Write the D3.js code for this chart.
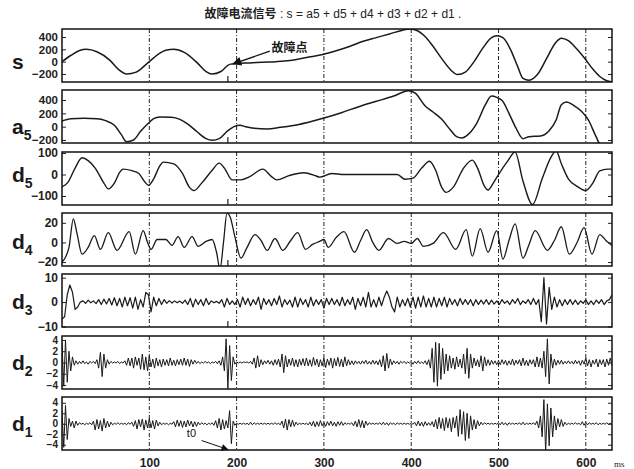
<!DOCTYPE html>
<html><head><meta charset="utf-8">
<script src="https://cdn.jsdelivr.net/npm/d3@7"></script>
<style>body{margin:0;background:#fff;} svg{display:block;}</style>
</head><body>
<svg id="c" width="634" height="469"></svg>
<script>
// ---------------- data ----------------
const titleCN = "故障电流信号";
const titleEq = " : s = a5 + d5 + d4 + d3 + d2 + d1 .";
const xTicks = [100, 200, 300, 400, 500, 600];

const sT = [0,10,20,28,40,55,65,74,85,95,100,110,120,128,140,155,165,172,182,190,193,200,215,230,245,255,270,285,300,315,330,345,360,375,390,398,405,415,425,435,445,453,462,472,482,492,498,505,515,522,528,535,545,555,565,572,580,590,600,608,616,624,630];
const sV = [0,100,180,200,160,20,-130,-200,-170,-60,0,120,190,200,150,-20,-160,-200,-160,-60,-40,-30,-20,-10,0,10,40,80,120,180,250,330,390,450,510,530,515,420,250,50,-130,-210,-170,0,220,390,420,390,160,-80,-270,-300,-200,50,300,380,340,200,30,-120,-240,-310,-330];

const a5T = [0,10,25,40,50,60,68,74,82,90,98,105,112,125,135,145,155,165,172,180,190,197,204,210,220,235,250,270,300,320,340,360,380,397,405,416,425,435,445,452,458,465,475,485,492,498,505,512,520,528,535,548,558,566,572,578,586,595,603,610,616];
const a5V = [85,120,125,120,90,20,-120,-225,-200,-70,40,120,145,140,110,30,-80,-180,-205,-180,-60,0,20,0,-25,-35,-10,30,130,210,300,380,460,540,500,310,220,110,-50,-150,-170,-120,50,330,460,440,380,200,-20,-180,-150,-140,-60,100,330,370,320,230,100,-100,-270];

const d5T = [0,7,15,23,30,38,48,53,60,66,70,80,88,95,99,105,112,116,128,138,146,151,160,172,180,186,195,205,215,230,240,246,260,277,290,295,309,323,384,393,402,412,421,428,435,440,448,460,470,476,484,488,494,500,510,519,528,539,550,560,566,572,580,590,600,608,616,625,630];
const d5V = [-58,-35,30,78,65,30,-40,-67,-40,10,25,18,5,-35,-50,-20,40,58,50,5,-60,-75,-40,20,53,30,-25,-25,-10,25,-10,-25,-5,8,-5,-12,5,0,0,-22,-17,30,62,20,-60,-83,-60,30,67,30,-55,-72,-40,0,60,105,-30,-140,-20,80,110,50,-20,-55,-75,-40,17,25,25];

const d4T = [0,4,8,13,17,23,30,37,44,53,63,77,84,93,98,102,109,119,126,133,140,149,156,165,172,177,181,185,189,193,198,205,212,221,228,235,244,253,262,270,279,287,295,300,305,314,323,335,342,349,356,363,374,384,392,400,407,414,425,437,451,463,470,479,488,498,505,512,519,528,535,542,556,564,572,581,590,598,607,616,623,630];
const d4V = [-20,-15,-5,24,10,-12,-5,7,-7,10,-8,11,-12,12,0,-7,3,3,-3,6,-5,6,-4,1,3,-10,-27,0,30,25,6,-16,-5,8,2,-8,4,-8,2,10,-7,-2,1,3,-5,5,11,-10,2,13,0,-8,4,-1,1,-1,4,-4,-1,10,-7,13,-14,14,-10,12,-17,2,19,-16,-2,12,-8,2,16,-12,0,15,-12,8,2,-3];

// d3 sampled every 3 ms
const d3Step = 3;
const d3V = [
 -7,-6,3,7,4,-3,-2,0,
 0.5,-0.5,0.8,-0.3,0.5,-0.6,1,-1,1.2,-0.8,1.5,-1.2,1.8,-1.5,1.5,-2,2,-1.5,1.8,-2.5,2,-3,1,-2,
 4,3,-4,2,-1.5,1.5,-1,1,-0.5,0.6,-0.4,0.5,
 -0.3,0.4,-0.5,0.8,-1,1.5,-2,1.2,-1,1,-1.5,1.5,-1,0.5,-0.3,0.3,-0.5,1,-2,1.5,-1,0.5,
 -1,1,-2,2,-1,1.5,-1.5,1,-1,2,-3,1.5,-1,1,-1.5,1.5,-1,2.5,-2,1,-1,0.8,
 -2,2,-2,1.5,-1,1,-2,2,-1.5,1,-1,1,-2.5,1.5,-1,1.5,-1,1,-1.5,2,-1.5,1,
 -1,2,-3,1.5,-1.5,2,-2,4,-2,1,-2,2,-1.5,2,4.5,2,-2,-4,2,-2,1,-1.5,
 1.5,-2,2,-2.5,2,-2,2.5,-2,1.5,-2,2,-2,1.5,-1.5,2,-2,1.5,-1,1,-1.5,1.5,-1,
 1,-1,1,-1.5,1,-1,0.8,-0.8,1,-1,0.8,-0.8,0.5,-1,1,-0.5,0.5,-1,1,-0.5,1.5,-1,
 0.5,-0.5,1,-1,1.5,-1,1,-8,10,-9,6,-3,2,-2,1,-1.5,1,-1,1,-1,0.8,-1,
 0.5,-0.5,1,-1,0.5,-1,0.8,-0.5,1,-1,0.5,1,3];

// d2 sampled every 2 ms
const d2Step = 2;
const d2V = [
 3.5,-4.2,4,-3.5,2,-1.5,1,-0.5,0.3,-0.3,
 0.2,-0.2,0.3,-0.2,0.1,-0.3,0.2,-0.1,0.2,-0.2,
 0.5,-1,1.8,-2.5,1.5,-1,0.5,-0.3,0.2,-0.1,
 0.1,-0.1,0.2,-0.2,0.1,-0.1,0.3,-0.5,0.8,-0.6,
 0.8,-1,1,-0.5,0.8,-1.2,1.5,-1.3,1,-1.5,
 1.2,-0.8,0.6,-1,0.8,-0.6,0.5,-0.8,0.6,-0.5,
 0.5,-0.6,0.8,-0.5,0.4,-0.6,0.5,-0.4,0.6,-0.5,
 0.8,-0.5,0.6,-0.7,0.5,-0.3,0.4,-0.2,0.2,-0.2,
 0.1,-0.1,0.2,-0.1,0.1,-0.2,0.1,-0.1,0.2,-0.2,
 0.3,-0.5,1,-1.5,4.2,-4.6,3,-3.2,1,-0.3,
 0.1,-0.1,0.1,-0.1,0.1,0,0.1,-0.1,0.2,-0.3,
 0.8,-1,1.2,-0.8,0.5,-0.4,0.3,-0.2,0.4,-0.3,
 0.3,-0.5,0.5,-0.4,0.6,-0.8,1.5,-1.8,1.2,-0.8,
 0.6,-0.5,0.8,-0.7,0.5,-0.8,0.6,-0.5,0.7,-0.6,
 0.8,-0.6,0.5,-0.7,0.9,-0.5,0.6,-0.8,0.5,-0.6,
 0.8,-0.9,0.6,-0.5,0.8,-1,0.7,-0.6,0.9,-0.7,
 0.6,-0.8,1,-0.6,0.5,-0.4,0.3,-0.4,0.3,-0.2,
 0.2,-0.3,0.3,-0.2,0.4,-0.3,0.2,-0.3,0.4,-0.3,
 0.3,-0.4,0.5,-0.8,1.2,-1.5,1.6,-1,0.6,-0.4,
 0.3,-0.2,0.2,-0.3,0.2,-0.1,0.2,-0.2,0.1,-0.1,
 0.2,-0.3,0.2,-0.2,0.3,-0.2,0.1,-0.2,0.3,-0.4,
 0.5,-1,2.5,-3.5,3.6,-4.2,3.4,-3,2.5,-2,
 1.5,-1.5,1.2,-1,0.8,-1.2,1,-0.8,0.6,-1,
 1.5,-2,2.5,-2.8,1.5,-1,0.8,-0.6,0.5,-0.8,
 1.2,-1.5,1,-0.6,0.5,-0.5,0.4,-0.3,0.3,-0.4,
 0.3,-0.4,0.5,-0.3,0.4,-0.5,0.3,-0.4,0.6,-0.5,
 0.4,-0.3,0.5,-0.6,0.8,-0.5,0.4,-0.6,0.5,-0.3,
 0.5,-0.8,1,-0.8,0.8,-1,2,-2.5,4.2,-3.8,
 1.5,-1,0.6,-0.5,0.4,-0.3,0.4,-0.3,0.2,-0.2,
 0.3,-0.2,0.2,-0.3,0.4,-0.2,0.3,-0.5,0.4,-0.3,
 0.8,-0.6,0.5,-0.8,0.4,-0.3,0.6,-0.8,0.5,-0.4,
 0.5,-0.8,0.6,-0.5,0.8,-0.6];

// d1 sampled every 2 ms
const d1Step = 2;
const d1V = [
 2.5,-4.5,3.5,-3,1,-0.5,0.5,-0.8,0.5,-0.3,
 0.2,-0.1,0.1,-0.2,0.1,-0.1,0.2,-0.2,0.5,-1.2,
 0.8,-1,0.6,-1.4,1,-0.8,0.5,-0.6,0.3,-0.2,
 0.1,-0.1,0.2,-0.1,0.1,-0.1,0.1,-0.2,0.2,-0.1,
 0.3,-0.5,0.6,-1,0.8,-0.6,0.9,-1.2,0.7,-0.8,
 1,-0.8,0.6,-1,0.7,-0.4,0.3,-0.2,0.1,-0.1,
 0.1,-0.2,0.1,-0.1,0.4,-0.6,0.7,-0.5,0.6,-0.7,
 0.5,-0.6,0.7,-0.4,0.5,-0.6,0.4,-0.5,0.3,-0.2,
 0.2,-0.1,0.1,-0.2,0.1,-0.1,0.2,-0.3,0.6,-0.8,
 1,-1.2,0.8,-1,0.6,-0.8,2.5,-3.8,0.5,-0.3,
 0.1,-0.1,0.1,-0.1,0.1,-0.1,0.1,-0.2,0.3,-0.2,
 0.2,-0.1,0.1,-0.1,0.1,-0.1,0.1,-0.1,0.1,-0.1,
 0.1,-0.1,0.2,-0.1,0.1,-0.2,0.5,-0.8,0.9,-1.2,
 0.8,-0.6,0.7,-0.5,0.3,-0.2,0.1,-0.1,0.1,-0.1,
 0.1,-0.2,0.3,-0.4,0.5,-0.6,0.4,-0.5,0.6,-0.4,
 0.3,-0.5,0.4,-0.3,0.5,-0.4,0.3,-0.5,0.4,-0.3,
 0.4,-0.3,0.2,-0.1,0.1,-0.1,0.2,-0.4,0.5,-0.6,
 0.8,-0.7,0.6,-0.8,0.5,-0.3,0.2,-0.1,0.1,-0.1,
 0.1,-0.1,0.2,-0.2,0.3,-0.2,0.2,-0.3,0.2,-0.1,
 0.1,-0.2,0.2,-0.1,0.1,-0.1,0.1,-0.1,0.1,-0.1,
 0.2,-0.1,0.3,-0.4,0.5,-0.4,0.3,-0.5,0.4,-0.3,
 0.2,-0.3,0.4,-0.6,0.8,-1,1.2,-0.9,1,-1.3,
 1.2,-0.8,1,-1.5,1.2,-0.8,1.5,-2.4,2.7,-2,
 2.3,-3.2,2,-2.8,1.5,-1.2,0.8,-1,0.6,-0.4,
 0.3,-0.2,0.2,-0.1,0.1,-0.1,0.1,-0.1,0.1,-0.1,
 0.2,-0.2,0.3,-0.2,0.2,-0.3,0.2,-0.1,0.1,-0.1,
 0.1,-0.1,0.2,-0.2,0.3,-0.2,0.1,-0.1,0.1,-0.1,
 0.2,-0.2,0.5,-0.8,1.5,-2.5,4.6,-5.5,3.8,-4.2,
 3,-2.5,1.5,-1.2,1,-0.6,0.8,-0.5,0.3,-0.2,
 0.1,-0.1,0.1,-0.1,0.2,-0.1,0.1,-0.2,0.4,-0.3,
 0.3,-0.2,0.2,-0.1,0.1,-0.1,0.2,-0.2,0.1,-0.1,
 0.1,-0.1,0.2,-0.1,0.1,-0.1];

const sTicks = [-200, 0, 200, 400];
const a5Ticks = [-200, 0, 200, 400];
const d5Ticks = [-100, 0, 100];
const d4Ticks = [-20, 0, 20];
const d3Ticks = [-10, 0, 10];
const d2Ticks = [-4, -2, 0, 2, 4];
const d1Ticks = [-4, -2, 0, 2, 4];

const faultLabel = "故障点";
const t0Label = "t0";
const t0Time = 190;

// ---------------- drawing ----------------
const svg = d3.select('#c');
const FONT = '"Liberation Sans", Arial, "Noto Sans CJK SC", sans-serif';
const x = d3.scaleLinear().domain([0, 630]).range([62, 612]);

const uni = (vals, step) => vals.map((v, i) => [i * step, v]);
const zip = (t, v) => t.map((tt, i) => [tt, v[i]]);

const panels = [
  {lab:'s',  sub:'',  pts: zip(sT, sV),  dom:[-330, 530],  ticks:sTicks,  curve:d3.curveMonotoneX, fs:11.5, sw:1.5},
  {lab:'a',  sub:'5', pts: zip(a5T, a5V), dom:[-245, 550], ticks:a5Ticks, curve:d3.curveMonotoneX, fs:11.5, sw:1.5},
  {lab:'d',  sub:'5', pts: zip(d5T, d5V), dom:[-142, 105], ticks:d5Ticks, curve:d3.curveMonotoneX, fs:12, sw:1.4},
  {lab:'d',  sub:'4', pts: zip(d4T, d4V), dom:[-24, 30],   ticks:d4Ticks, curve:d3.curveMonotoneX, fs:12, sw:1.3},
  {lab:'d',  sub:'3', pts: uni(d3V, d3Step), dom:[-10.2, 11.5], ticks:d3Ticks, curve:d3.curveLinear, fs:12, sw:1.2},
  {lab:'d',  sub:'2', pts: uni(d2V, d2Step), dom:[-4.7, 4.7],   ticks:d2Ticks, curve:d3.curveLinear, fs:10, sw:1.0},
  {lab:'d',  sub:'1', pts: uni(d1V, d1Step), dom:[-5, 5.1],     ticks:d1Ticks, curve:d3.curveLinear, fs:10, sw:1.0},
];

const PH = 53;
const defs = svg.append('defs');
defs.append('marker').attr('id','ah').attr('viewBox','0 0 10 10').attr('refX',9).attr('refY',5)
  .attr('markerWidth',9).attr('markerHeight',7).attr('orient','auto').attr('markerUnits','userSpaceOnUse')
  .append('path').attr('d','M0,0L10,5L0,10z').attr('fill','#111');
defs.append('marker').attr('id','ah2').attr('viewBox','0 0 10 10').attr('refX',9).attr('refY',5)
  .attr('markerWidth',16).attr('markerHeight',9).attr('orient','auto').attr('markerUnits','userSpaceOnUse')
  .append('path').attr('d','M0,0L10,5L0,10z').attr('fill','#111');

// title
const tt = svg.append('text').attr('x', 333).attr('y', 18).attr('text-anchor','middle')
  .attr('font-family', FONT).attr('font-size', 12).attr('fill','#222');
tt.append('tspan').attr('font-weight','bold').text(titleCN);
tt.append('tspan').text(titleEq);

panels.forEach((p, i) => {
  const top = Math.round(29 + i * 61.3);
  const y = d3.scaleLinear().domain(p.dom).range([top + PH, top]);
  p.y = y; p.top = top;
  const g = svg.append('g');
  const cid = 'clip' + i;
  defs.append('clipPath').attr('id', cid).append('rect')
    .attr('x', x.range()[0]).attr('y', top).attr('width', x.range()[1] - x.range()[0]).attr('height', PH);

  // grid lines (dash-dot)
  g.selectAll('line.grid').data(xTicks).join('line')
    .attr('x1', d => x(d)).attr('x2', d => x(d)).attr('y1', top).attr('y2', top + PH)
    .attr('stroke', '#222').attr('stroke-width', 1).attr('stroke-dasharray', '4,2,1,2');

  // signal
  const line = d3.line().x(d => x(d[0])).y(d => y(d[1])).curve(p.curve);
  g.append('path').attr('d', line(p.pts.filter(d => d[0] <= 630))).attr('fill','none')
    .attr('stroke', '#1a1a1a').attr('stroke-width', p.sw).attr('stroke-linejoin','round')
    .attr('clip-path', `url(#${cid})`);

  // t0 marker ticks on upper panels
  if (i <= 4) {
    g.append('line').attr('x1', x(t0Time)).attr('x2', x(t0Time)).attr('y1', top + PH).attr('y2', top + PH - 6)
      .attr('stroke','#222').attr('stroke-width',1.2);
  }

  // left axis
  const ax = g.append('g').attr('transform', `translate(${x.range()[0]},0)`)
    .call(d3.axisLeft(y).tickValues(p.ticks).tickSize(-4).tickPadding(4).tickFormat(d3.format('d')));
  ax.select('.domain').remove();
  ax.selectAll('line').attr('stroke','#222');
  ax.selectAll('text').attr('font-family', FONT).attr('font-size', p.fs).attr('font-weight','bold').attr('fill','#222');
  // right axis ticks
  const axr = g.append('g').attr('transform', `translate(${x.range()[1]},0)`)
    .call(d3.axisRight(y).tickValues(p.ticks).tickSize(-4).tickFormat(''));
  axr.select('.domain').remove();
  axr.selectAll('line').attr('stroke','#222');

  // frame
  g.append('rect').attr('x', x.range()[0]).attr('y', top).attr('width', x.range()[1] - x.range()[0]).attr('height', PH)
    .attr('fill','none').attr('stroke','#111').attr('stroke-width',1.5);

  // row label
  const cy = y(0);
  const lt = g.append('text').attr('x', 12).attr('y', cy + 7).attr('font-family', FONT)
    .attr('font-size', 21).attr('font-weight','bold').attr('fill','#1a1a1a');
  lt.append('tspan').text(p.lab);
  if (p.sub) lt.append('tspan').attr('font-size', 14).attr('dy', 6).text(p.sub);
});

// x-axis labels under last panel
const last = panels[panels.length - 1];
const axb = svg.append('g').attr('transform', `translate(0,${last.top + PH})`)
  .call(d3.axisBottom(x).tickValues(xTicks).tickSize(0).tickPadding(8));
axb.select('.domain').remove();
axb.selectAll('text').attr('font-family', FONT).attr('font-size', 12).attr('font-weight','bold').attr('fill','#222');
svg.append('text').attr('x', x(630) + 2).attr('y', last.top + PH + 17).attr('font-family','"Liberation Serif", serif')
  .attr('font-size', 9).attr('fill','#222').text('ms');

// annotation: fault point in s
const sP = panels[0];
svg.append('line').attr('x1', x(238)).attr('y1', sP.y(170)).attr('x2', x(196)).attr('y2', sP.y(-35))
  .attr('stroke','#111').attr('stroke-width',1.4).attr('marker-end','url(#ah2)');
svg.append('text').attr('x', x(240)).attr('y', sP.y(150)).attr('font-family', FONT).attr('font-size', 12)
  .attr('font-weight','bold').attr('fill','#1a1a1a').text(faultLabel);

// annotation: t0 in d1
svg.append('text').attr('x', x(143)).attr('y', last.y(-2.6)).attr('font-family', FONT).attr('font-size', 11)
  .attr('fill','#111').text(t0Label);
svg.append('line').attr('x1', x(160)).attr('y1', last.y(-3.2)).attr('x2', x(190)).attr('y2', last.y(-4.9))
  .attr('stroke','#111').attr('stroke-width',1).attr('marker-end','url(#ah)');
</script>
</body></html>
